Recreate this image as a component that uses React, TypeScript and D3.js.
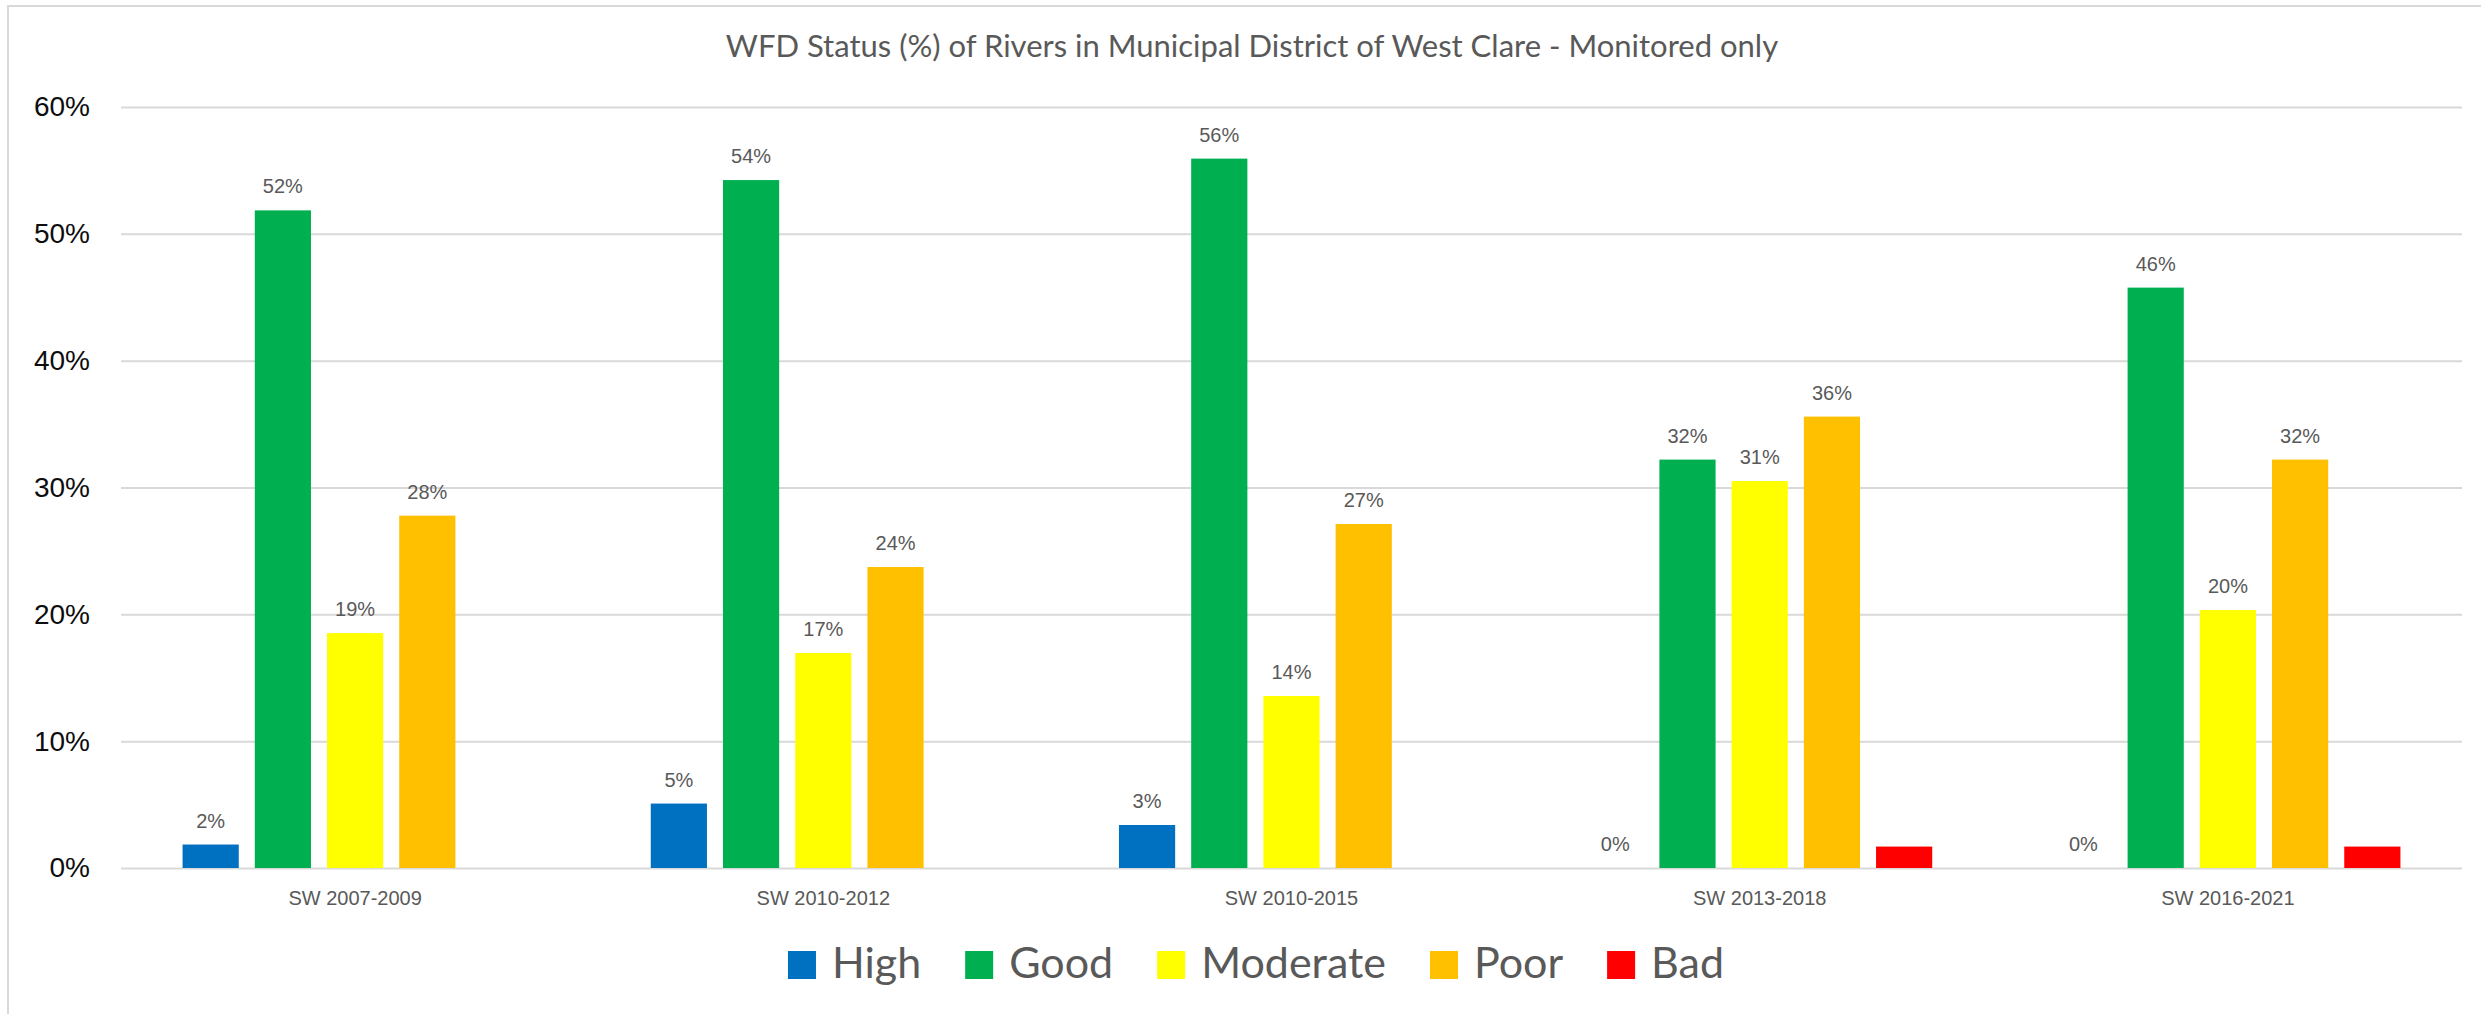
import React, { useEffect, useRef } from 'react';
import * as d3 from 'd3';

// chart data (percent of monitored river water bodies)
const periods = ['SW 2007-2009', 'SW 2010-2012', 'SW 2010-2015', 'SW 2013-2018', 'SW 2016-2021'];
const statuses = ['High', 'Good', 'Moderate', 'Poor', 'Bad'];
const statusColours = ['#0070C0', '#00B050', '#FFFF00', '#FFC000', '#FF0000'];
// the Bad series carries no data labels in the original
const statusLabelled = [true, true, true, true, false];

const high = [1.85, 5.08, 3.39, 0, 0];
const good = [51.85, 54.24, 55.93, 32.2, 45.76];
const moderate = [18.52, 16.95, 13.56, 30.51, 20.34];
const poor = [27.78, 23.73, 27.12, 35.59, 32.2];
const bad = [null, null, null, 1.69, 1.69];

const yTicks = [0, 10, 20, 30, 40, 50, 60];
const title = 'WFD Status (%) of Rivers in Municipal District of West Clare - Monitored only';

const seriesValues = [high, good, moderate, poor, bad];

const W = 2481;
const H = 1014;
const margins = { left: 121, right: 19, top: 107, bottom: 146 };

const YAxis = ({ scale, width }) => {
    const ref = useRef(null);
    useEffect(() => {
        const axis = d3.axisLeft(scale)
            .tickValues(yTicks)
            .tickSize(-width)
            .tickPadding(31)
            .tickFormat(d => `${d}%`);
        const g = d3.select(ref.current).call(axis);
        g.select('.domain').remove();
        g.selectAll('line').attr('stroke', '#d9d9d9').attr('stroke-width', 2);
        g.selectAll('text')
            .attr('font-family', '"Liberation Sans", Arial, sans-serif')
            .attr('font-size', 28)
            .attr('fill', '#0d0d0d');
    }, [scale, width]);
    return <g ref={ref} transform={`translate(${margins.left},0)`} />;
};

const Legend = ({ cx, y }) => {
    const ref = useRef(null);
    useEffect(() => {
        const g = d3.select(ref.current);
        g.selectAll('*').remove();
        const items = g.selectAll('g.item').data(statuses).enter().append('g').attr('class', 'item');
        items.append('rect')
            .attr('width', 28).attr('height', 28)
            .attr('y', y)
            .attr('fill', (d, i) => statusColours[i]);
        items.append('text')
            .text(d => d)
            .attr('x', 44)
            .attr('y', y + 27)
            .attr('font-family', 'Lato, "Open Sans", sans-serif')
            .attr('font-size', 43)
            .attr('fill', '#595959');
        let x = 0;
        const offsets = [];
        items.each(function () {
            const w = (d3.select(this).select('text').node() as SVGTextElement).getComputedTextLength();
            offsets.push(x);
            x += 44 + w + 44;
        });
        const total = x - 44;
        const start = cx - total / 2;
        items.attr('transform', (d, i) => `translate(${start + offsets[i]},0)`);
    }, [cx, y]);
    return <g ref={ref} />;
};

const App = () => {
    const plotW = W - margins.left - margins.right;

    const x0 = d3.scaleBand()
        .domain(periods)
        .range([margins.left, W - margins.right])
        .paddingInner(0.263)
        .paddingOuter(0.1315);

    const x1 = d3.scaleBand()
        .domain(statuses)
        .range([0, x0.bandwidth()])
        .paddingInner(0.222);

    const y = d3.scaleLinear()
        .domain([0, 60])
        .range([H - margins.bottom, margins.top]);

    return (
        <svg width={W} height={H} style={{ position: 'absolute', left: 0, top: 0, display: 'block' }}>
            <rect x={0} y={0} width={W} height={H} fill="#fff" />
            <rect x={8} y={6} width={W + 100} height={H + 100} fill="none" stroke="#d9d9d9" strokeWidth={2} />

            <text x={1252} y={57} textAnchor="middle" fontFamily='Lato, "Open Sans", sans-serif'
                fontSize={31} fill="#595959">{title}</text>

            <YAxis scale={y} width={plotW} />

            {periods.map((p, pi) => (
                <g key={p} transform={`translate(${x0(p)},0)`}>
                    {statuses.map((s, si) => {
                        const v = seriesValues[si][pi];
                        if (v === null) return null;
                        const bx = x1(s);
                        return (
                            <g key={s}>
                                <rect x={bx} y={y(v)} width={x1.bandwidth()} height={y(0) - y(v)}
                                    fill={statusColours[si]} />
                                {statusLabelled[si] && (
                                    <text x={bx + x1.bandwidth() / 2} y={y(v) - 17} textAnchor="middle"
                                        fontFamily='"Liberation Sans", Arial, sans-serif' fontSize={20}
                                        fill="#595959">{`${d3.format('.0f')(v)}%`}</text>
                                )}
                            </g>
                        );
                    })}
                    <text x={x0.bandwidth() / 2} y={905} textAnchor="middle"
                        fontFamily='"Liberation Sans", Arial, sans-serif' fontSize={20}
                        fill="#595959">{p}</text>
                </g>
            ))}

            <Legend cx={1256} y={951} />
        </svg>
    );
};

export default App;
